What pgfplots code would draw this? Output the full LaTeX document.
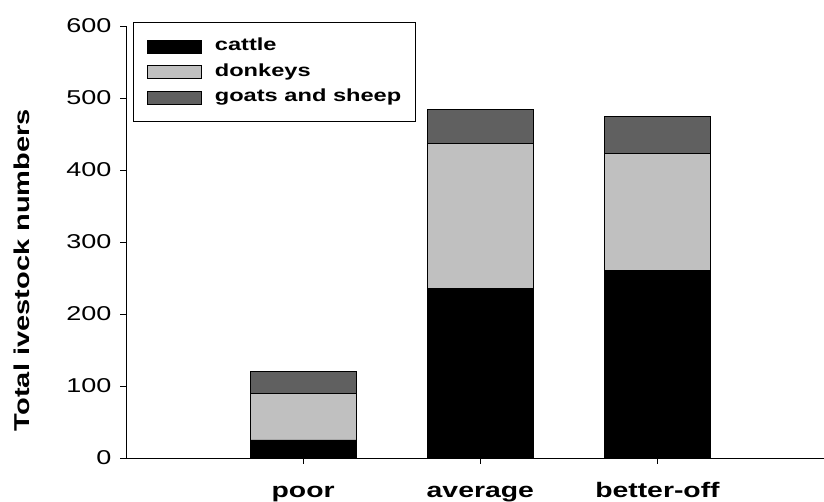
\documentclass[border=0pt]{standalone}
\usepackage{fontspec}
\setmainfont{Liberation Sans}
\newfontfamily\sfont{Liberation Sans}[FakeStretch=1.35]
\usepackage{pgfplots}
\pgfplotsset{compat=1.18}
\definecolor{donk}{HTML}{C0C0C0}
\definecolor{goat}{HTML}{606060}
\pgfplotsset{mylegend/.style={legend image code/.code={\draw[##1,draw=black,line width=0.6pt] (0pt,-6.5pt) rectangle (54pt,6.5pt);}}}
\begin{document}
\begin{tikzpicture}[x=1pt,y=1pt]
\useasboundingbox (0,0) rectangle (824,502);
\begin{axis}[
  at={(126pt,44pt)}, anchor=south west,
  scale only axis, width=698pt, height=432pt,
  xmin=-1, xmax=2.94, ymin=0, ymax=600,
  ybar stacked, bar width=0.6,
  axis x line*=bottom, axis y line*=left,
  xtick={0,1,2}, xticklabels={poor,average,better-off},
  ytick={0,100,...,600},
  tick align=outside, major tick length=6pt,
  tick style={black, line width=0.8pt},
  axis line style={line width=0.8pt},
  /pgf/number format/assume math mode=true,
  yticklabel style={font=\sfont\fontsize{20}{20}\selectfont, xshift=-5pt},
  xticklabel style={font=\sfont\bfseries\fontsize{21}{21}\selectfont, anchor=base, yshift=-34pt},
  ylabel={Total ivestock numbers},
  ylabel style={at={(axis description cs:-0.149,0.435)}, anchor=center, rotate=0, font=\sfont\bfseries\fontsize{21.5}{21.5}\selectfont},
  legend style={at={(axis description cs:0.01,1.0093)}, anchor=north west, draw=black, line width=0.6pt,
    font=\sfont\bfseries\fontsize{17.5}{17.5}\selectfont, inner xsep=14pt, inner ysep=13.5pt, row sep=4pt,
    nodes={inner xsep=0pt, inner ysep=2pt, text height=13pt, text depth=4.5pt},
    /tikz/every odd column/.append style={column sep=13pt}},
  legend cell align=left,
]
\addplot[fill=black, draw=black, line width=0.6pt, mylegend] coordinates {(0,25) (1,235) (2,260)};
\addplot[fill=donk, draw=black, line width=0.6pt, mylegend] coordinates {(0,65) (1,202) (2,163)};
\addplot[fill=goat, draw=black, line width=0.6pt, mylegend] coordinates {(0,30) (1,47) (2,51)};
\legend{cattle, donkeys, goats and sheep}
\end{axis}
\end{tikzpicture}
\end{document}
